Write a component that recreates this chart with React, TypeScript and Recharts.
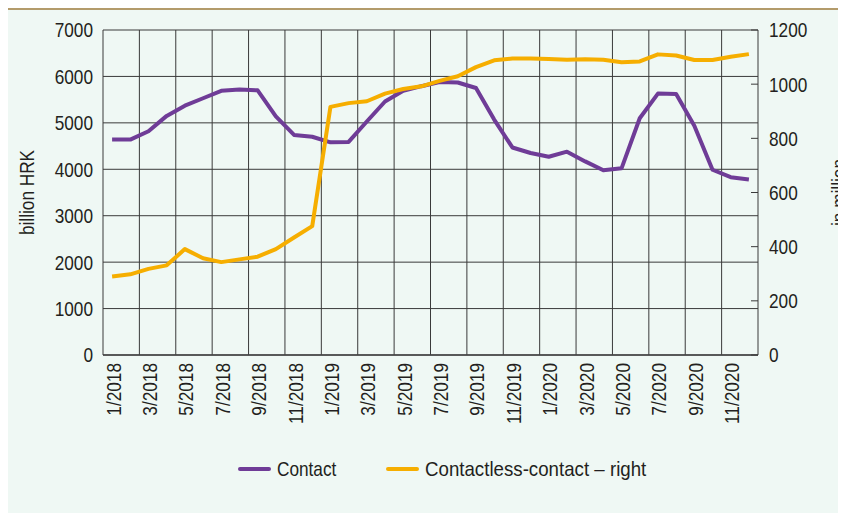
import { CartesianGrid, Legend, Line, LineChart, ReferenceLine, XAxis, YAxis } from "recharts";

const months = [
  "1/2018", "2/2018", "3/2018", "4/2018", "5/2018", "6/2018", "7/2018", "8/2018", "9/2018", "10/2018", "11/2018", "12/2018",
  "1/2019", "2/2019", "3/2019", "4/2019", "5/2019", "6/2019", "7/2019", "8/2019", "9/2019", "10/2019", "11/2019", "12/2019",
  "1/2020", "2/2020", "3/2020", "4/2020", "5/2020", "6/2020", "7/2020", "8/2020", "9/2020", "10/2020", "11/2020", "12/2020",
];

// billion HRK, left axis
const contact = [
  4640, 4640, 4820, 5150, 5370, 5530, 5690, 5720, 5700, 5140, 4740, 4700,
  4580, 4590, 5030, 5460, 5690, 5790, 5880, 5870, 5750, 5070, 4470, 4350,
  4270, 4380, 4170, 3980, 4020, 5100, 5630, 5620, 4940, 3990, 3830, 3780,
];

// in million, right axis
const contactless = [
  290, 298, 318, 331, 391, 357, 343, 353, 363, 391, 434, 476,
  916, 930, 937, 965, 982, 992, 1012, 1029, 1063, 1088, 1095, 1095,
  1093, 1090, 1092, 1090, 1081, 1084, 1110, 1106, 1089, 1089, 1101, 1111,
];

const leftTicks = [0, 1000, 2000, 3000, 4000, 5000, 6000, 7000];
const rightTicks = [0, 200, 400, 600, 800, 1000, 1200];

const PURPLE = "#6f3c97";
const GOLD = "#f6ae00";
const INK = "#231f20";
const GRID = "#3a3a3a";
const FONT = "'Liberation Sans', Arial, sans-serif";
const FS = 21;
const NARROW = 0.82; // condensed look of the original typeface

const data = months.map((m, i) => ({ idx: i, month: m, contact: contact[i], contactless: contactless[i] }));
const labelTicks = months.map((_, i) => i).filter((i) => i % 2 === 0);
// vertical grid sits between every second month
const gridX = months.map((_, i) => i + 1.5).filter((v, i) => i % 2 === 0 && v < months.length - 1);

function NText({ x, y, anchor, rotate, children, dy }: any) {
  const rot = rotate ? ` rotate(${rotate})` : "";
  return (
    <text
      x={0}
      y={0}
      dy={dy}
      transform={`translate(${x},${y})${rot} scale(${NARROW},1)`}
      textAnchor={anchor}
      fontSize={FS}
      fontFamily={FONT}
      fill={INK}
    >
      {children}
    </text>
  );
}

function MonthTick({ x, y, payload }: any) {
  return (
    <NText x={x + 1} y={y} anchor="end" rotate={-90} dy="0.355em">
      {months[payload.value]}
    </NText>
  );
}

function LeftTick({ x, y, payload }: any) {
  return (
    <NText x={x} y={y} anchor="end" dy="0.355em">
      {payload.value}
    </NText>
  );
}

function RightTick({ x, y, payload }: any) {
  return (
    <g>
      <line x1={x - 7} x2={x} y1={y} y2={y} stroke={GRID} />
      <NText x={x + 11} y={y} anchor="start" dy="0.355em">
        {payload.value}
      </NText>
    </g>
  );
}

function LegendContent() {
  const items = [
    { name: "Contact", color: PURPLE, gap: 0, sx: NARROW },
    { name: "Contactless-contact – right", color: GOLD, gap: 37, sx: 0.89 },
  ];
  return (
    <div style={{ display: "flex", alignItems: "center", fontFamily: FONT, fontSize: FS, color: INK, whiteSpace: "nowrap" }}>
      {items.map((it) => (
        <div key={it.name} style={{ display: "flex", alignItems: "center", marginLeft: it.gap }}>
          <span style={{ width: 33, height: 4, background: it.color, borderRadius: 2, marginRight: 6 }} />
          <span style={{ display: "inline-block", transform: `scaleX(${it.sx})`, transformOrigin: "left center" }}>
            {it.name}
          </span>
        </div>
      ))}
    </div>
  );
}

export default function App() {
  return (
    <div style={{ position: "relative", width: 838, height: 505, background: "#eff8f4" }}>
      <div style={{ position: "absolute", left: 0, top: 0, width: 838, height: 2, background: "#b39b6b" }} />
      <LineChart width={838} height={505} data={data} margin={{ top: 22, right: 0, bottom: 78, left: 0 }}>
        <CartesianGrid yAxisId="left" vertical={false} stroke={GRID} strokeOpacity={1} />
        <XAxis
          dataKey="idx"
          type="number"
          domain={[-0.5, months.length - 0.5]}
          ticks={labelTicks}
          interval={0}
          tick={<MonthTick />}
          tickSize={0}
          tickMargin={8}
          height={80}
          axisLine={{ stroke: "#444", strokeWidth: 1.5 }}
        />
        <YAxis
          yAxisId="left"
          domain={[0, 7000]}
          ticks={leftTicks}
          width={95}
          tickSize={0}
          tickMargin={10}
          tick={<LeftTick />}
          axisLine={{ stroke: GRID }}
          label={{
            content: ({ viewBox }: any) => (
              <NText x={26} y={viewBox.y + viewBox.height / 2} anchor="middle" rotate={-90}>
                billion HRK
              </NText>
            ),
          }}
        />
        <YAxis
          yAxisId="right"
          orientation="right"
          domain={[0, 1200]}
          ticks={rightTicks}
          width={88}
          tickSize={0}
          tickMargin={0}
          tick={<RightTick />}
          axisLine={{ stroke: GRID }}
          label={{
            content: ({ viewBox }: any) => (
              <NText x={838} y={viewBox.y + viewBox.height / 2} anchor="middle" rotate={-90}>
                in million
              </NText>
            ),
          }}
        />
        {gridX.map((gx) => (
          <ReferenceLine key={gx} x={gx} yAxisId="left" stroke={GRID} strokeWidth={1} />
        ))}
        <Line
          yAxisId="left"
          dataKey="contact"
          name="Contact"
          stroke={PURPLE}
          strokeWidth={4}
          dot={false}
          strokeLinejoin="round"
          isAnimationActive={false}
        />
        <Line
          yAxisId="right"
          dataKey="contactless"
          name="Contactless-contact – right"
          stroke={GOLD}
          strokeWidth={4}
          dot={false}
          strokeLinejoin="round"
          isAnimationActive={false}
        />
        <Legend
          layout="vertical"
          align="center"
          verticalAlign="middle"
          content={<LegendContent />}
          wrapperStyle={{ left: 230, top: 449, width: "auto", height: "auto" }}
        />
      </LineChart>
    </div>
  );
}
